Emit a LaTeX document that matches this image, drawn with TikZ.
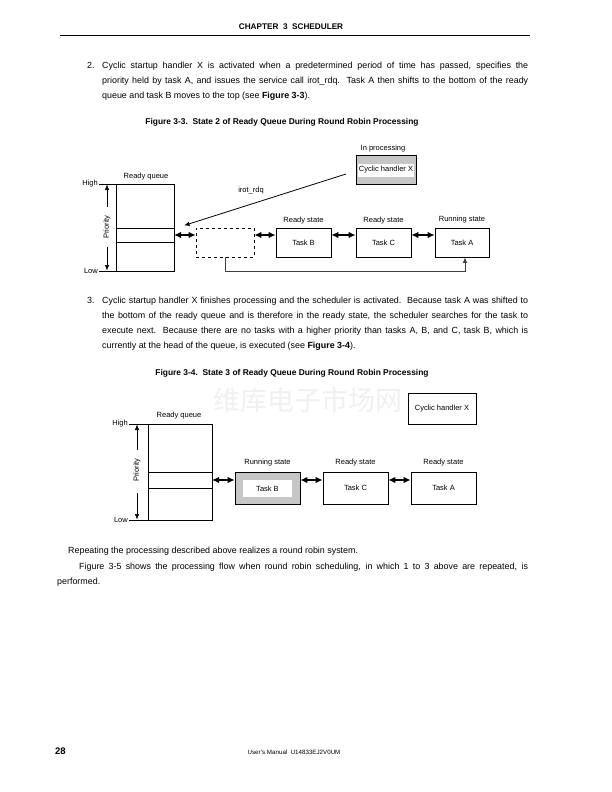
\documentclass[tikz,border=0pt]{standalone}
\usepackage{fontspec}
\setmainfont{Liberation Sans}
\newfontfamily\cjk{Noto Sans CJK SC}
\usetikzlibrary{arrows.meta}
\begin{document}
\begin{tikzpicture}[x=1pt,y=-1pt,
  txt/.style={inner sep=0pt, anchor=mid west, font=\fontsize{8.9}{10}\selectfont},
  figcap/.style={inner sep=0pt, font=\bfseries\fontsize{8.4}{10}\selectfont},
  lbl/.style={inner sep=0pt, font=\fontsize{7.5}{8}\selectfont},
  bx/.style={draw, line width=0.6pt, inner sep=0pt},
  dbl/.style={{Latex[length=7pt,width=6.5pt]}-{Latex[length=7pt,width=6.5pt]}, line width=1.9pt},
  sgl/.style={-{Latex[length=5.5pt,width=4.5pt]}, line width=0.7pt},
  tickln/.style={line width=0.5pt}
]
\useasboundingbox[fill=white] (0,0) rectangle (612,792);

% header
\node[figcap, font=\bfseries\fontsize{8.2}{9}\selectfont] (hdr) at (291,27) {CHAPTER\ \ 3\ \ SCHEDULER};
\coordinate (rl) at (60,35.5); \coordinate (rr) at (530,35.5);
\draw[line width=0.8pt] (rl) -- (rr);

% paragraph 2
\node[txt] (n2) at (87,66) {2.};
\node[txt] (p2a) at (102,66) {\makebox[426pt][s]{Cyclic startup handler X is activated when a predetermined period of time has passed, specifies the}};
\node[txt] (p2b) at (102,81) {\makebox[426pt][s]{priority held by task A, and issues the service call irot\_rdq.\ \ Task A then shifts to the bottom of the ready}};
\node[txt] (p2c) at (102,96) {queue and task B moves to the top (see \textbf{Figure 3-3}).};

\node[figcap] (cap3) at (282,122) {Figure 3-3.\ \ State 2 of Ready Queue During Round Robin Processing};

% ---------- Figure 3-3 ----------
\node[lbl] (inproc) at (383,149) {In processing};
\node[bx, fill=gray!45, minimum width=60pt, minimum height=29pt] (cx) at (386,169.5) {};
\node[inner sep=0pt, fill=white, minimum width=56pt, minimum height=13pt] (cxin) at (386,170) {};
\node[lbl] (cxt) at (cxin) {Cyclic handler X};

\node[lbl] (rq1) at (146,177) {Ready queue};
\node[bx, minimum width=58pt, minimum height=87pt] (q1) at (145,227.5) {};
\coordinate (q1r1) at (116,228); \coordinate (q1r1e) at (174,228);
\coordinate (q1r2) at (116,242.5); \coordinate (q1r2e) at (174,242.5);
\draw[line width=0.6pt] (q1r1) -- (q1r1e);
\draw[line width=0.6pt] (q1r2) -- (q1r2e);
\coordinate (q1m) at (174,235);

\node[lbl, anchor=east] (hi1) at (98,184) {High};
\node[lbl, anchor=east] (lo1) at (98,271) {Low};
\coordinate (t1a) at (99,184); \coordinate (t1b) at (116,184);
\coordinate (t1c) at (99,271); \coordinate (t1d) at (116,271);
\draw[tickln] (t1a) -- (t1b);
\draw[tickln] (t1c) -- (t1d);
\node[lbl, rotate=90] (pr1) at (107,227) {Priority};
\coordinate (pa1) at (107,207); \coordinate (pa1t) at (107,184.5);
\coordinate (pb1) at (107,247); \coordinate (pb1t) at (107,270.5);
\draw[sgl, line width=0.6pt] (pa1) -- (pa1t);
\draw[sgl, line width=0.6pt] (pb1) -- (pb1t);

\node[bx, dashed, minimum width=58pt, minimum height=29pt] (dash) at (225,242.5) {};
\node[lbl] (rs1) at (303.5,221) {Ready state};
\node[bx, minimum width=55pt, minimum height=29pt] (tb1) at (303.5,242.5) {};
\node[lbl] (tb1t) at (303.5,242.5) {Task B};
\node[lbl] (rs2) at (383.5,221) {Ready state};
\node[bx, minimum width=55pt, minimum height=29pt] (tc1) at (383.5,242.5) {};
\node[lbl] (tc1t) at (383.5,242.5) {Task C};
\node[lbl] (rs3) at (462,220) {Running state};
\node[bx, minimum width=54pt, minimum height=29pt] (ta1) at (462,242.5) {};
\node[lbl] (ta1t) at (462,242.5) {Task A};

\draw[dbl] (q1m) -- (dash.west |- q1m);
\draw[dbl] (dash.east |- q1m) -- (tb1.west |- q1m);
\draw[dbl] (tb1.east |- q1m) -- (tc1.west |- q1m);
\draw[dbl] (tc1.east |- q1m) -- (ta1.west |- q1m);

\coordinate (bt1) at (225,257); \coordinate (bt2) at (225,271.5);
\coordinate (bt3) at (465,271.5); \coordinate (bt4) at (465,257.3);
\draw[sgl, line width=0.9pt, draw=black!75] (bt1) -- (bt2) -- (bt3) -- (bt4);

\coordinate (ir0) at (346,174); \coordinate (ir1) at (184,225.5);
\draw[sgl, line width=0.8pt] (ir0) -- (ir1);
\node[lbl] (irl) at (251,191) {irot\_rdq};

% paragraph 3
\node[txt] (n3) at (87,301) {3.};
\node[txt] (p3a) at (102,301) {\makebox[426pt][s]{Cyclic startup handler X finishes processing and the scheduler is activated.\ \ Because task A was shifted to}};
\node[txt] (p3b) at (102,316) {\makebox[426pt][s]{the bottom of the ready queue and is therefore in the ready state, the scheduler searches for the task to}};
\node[txt] (p3c) at (102,331) {\makebox[426pt][s]{execute next.\ \ Because there are no tasks with a higher priority than tasks A, B, and C, task B, which is}};
\node[txt] (p3d) at (102,346) {currently at the head of the queue, is executed (see \textbf{Figure 3-4}).};

\node[figcap] (cap4) at (292,373) {Figure 3-4.\ \ State 3 of Ready Queue During Round Robin Processing};

% watermark
\node[inner sep=0pt, text=gray!12, font=\cjk\fontsize{27}{30}\selectfont] (wm) at (308,400) {维库电子市场网};

% ---------- Figure 3-4 ----------
\node[bx, minimum width=68pt, minimum height=31pt] (cx2) at (442,408.5) {};
\node[lbl] (cx2t) at (442,409) {Cyclic handler X};

\node[lbl] (rq2) at (179,416) {Ready queue};
\node[bx, minimum width=64pt, minimum height=96pt] (q2) at (180,472) {};
\coordinate (q2r1) at (148,472); \coordinate (q2r1e) at (212,472);
\coordinate (q2r2) at (148,488); \coordinate (q2r2e) at (212,488);
\draw[line width=0.6pt] (q2r1) -- (q2r1e);
\draw[line width=0.6pt] (q2r2) -- (q2r2e);
\coordinate (q2m) at (212,480);

\node[lbl, anchor=east] (hi2) at (128,424) {High};
\node[lbl, anchor=east] (lo2) at (128,520) {Low};
\coordinate (t2a) at (129,424); \coordinate (t2b) at (148,424);
\coordinate (t2c) at (129,520); \coordinate (t2d) at (148,520);
\draw[tickln] (t2a) -- (t2b);
\draw[tickln] (t2c) -- (t2d);
\node[lbl, rotate=90] (pr2) at (137,470) {Priority};
\coordinate (pa2) at (137,450); \coordinate (pa2t) at (137,424.5);
\coordinate (pb2) at (137,493); \coordinate (pb2t) at (137,519.5);
\draw[sgl, line width=0.6pt] (pa2) -- (pa2t);
\draw[sgl, line width=0.6pt] (pb2) -- (pb2t);

\node[lbl] (rs4) at (267.5,462.5) {Running state};
\node[bx, fill=gray!45, minimum width=65pt, minimum height=32pt] (tb2) at (267.5,488) {};
\node[inner sep=0pt, fill=white, minimum width=49pt, minimum height=17pt] (tb2in) at (267.5,488.5) {};
\node[lbl] (tb2t) at (tb2in) {Task B};
\node[lbl] (rs5) at (355.5,462.5) {Ready state};
\node[bx, minimum width=65pt, minimum height=32pt] (tc2) at (355.5,488) {};
\node[lbl] (tc2t) at (355.5,488) {Task C};
\node[lbl] (rs6) at (443.5,462.5) {Ready state};
\node[bx, minimum width=65pt, minimum height=32pt] (ta2) at (443.5,488) {};
\node[lbl] (ta2t) at (443.5,488) {Task A};

\draw[dbl] (q2m) -- (tb2.west |- q2m);
\draw[dbl] (tb2.east |- q2m) -- (tc2.west |- q2m);
\draw[dbl] (tc2.east |- q2m) -- (ta2.west |- q2m);

% closing paragraph
\node[txt] (r1) at (68,551) {Repeating the processing described above realizes a round robin system.};
\node[txt] (r2) at (79,567) {\makebox[449pt][s]{Figure 3-5 shows the processing flow when round robin scheduling, in which 1 to 3 above are repeated, is}};
\node[txt] (r3) at (57,582) {performed.};

% footer
\node[inner sep=0pt, anchor=mid west, font=\bfseries\fontsize{9.5}{11}\selectfont] (pg) at (55,752) {28};
\node[inner sep=0pt, font=\fontsize{6.2}{8}\selectfont] (man) at (294,752) {User's Manual\ \ U14833EJ2V0UM};
\end{tikzpicture}
\end{document}
